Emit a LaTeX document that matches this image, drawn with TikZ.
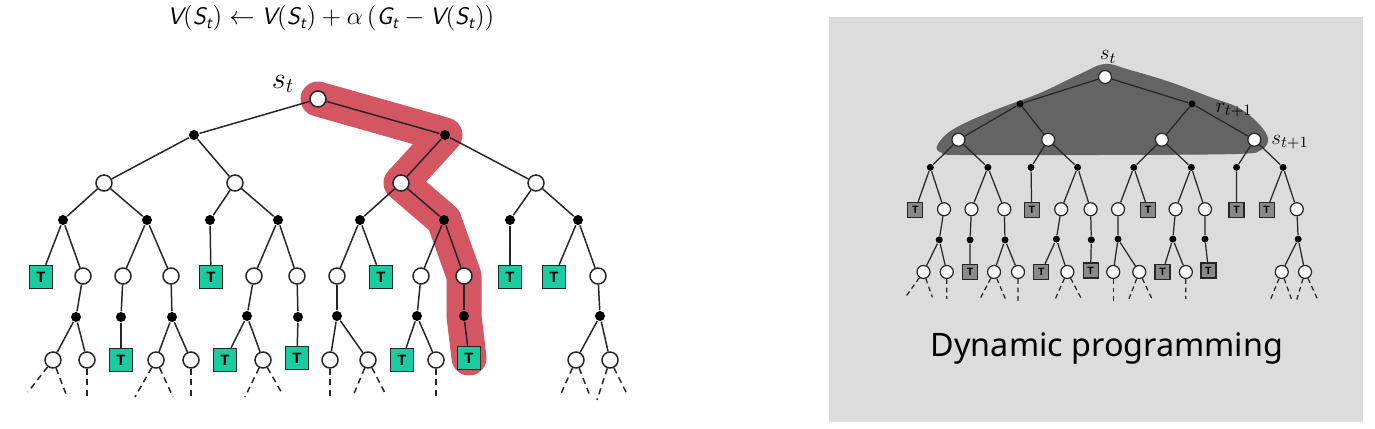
\documentclass[tikz,border=0pt]{standalone}
\usepackage{amsmath}
\usepackage{fontspec}
\usepackage{tikz}
\usetikzlibrary{backgrounds}
\newfontfamily\dpfont{Noto Sans}
\newfontfamily\tfont{Liberation Sans}
\definecolor{xteal}{RGB}{26,204,160}
\definecolor{xred}{RGB}{212,86,98}
\definecolor{xpanel}{RGB}{220,220,220}
\definecolor{xblob}{RGB}{100,100,100}
\definecolor{xtgray}{RGB}{138,138,138}

\newcommand{\sfi}[1]{\textsf{\itshape #1}}

% one backup tree, root at (0,0), node names prefixed by #1
\newcommand{\backuptree}[1]{%
  \foreach \n/\x/\y in {r/0/0, s1/-214/84, s2/-83/84, s3/83/84, s4/218/84,
      u1/-235/177, u2/-195/177, u3/-147/177, u4/-64/177, u5/-21/177,
      u6/19/177, u7/103/177, u8/146/177, u9/280/177,
      v1/-265/261, v2/-231/261, v3/-162/261, v4/-127/261, v5/-55/261,
      v6/12/261, v7/50/261, v8/118/261, v9/258/261, v10/292/261}
    \node[stnode] (#1\n) at (\x,\y) {};
  \foreach \n/\x/\y in {a1/-124/36, a2/127/36,
      b1/-255/121, b2/-171/121, b3/-108/121, b4/-40/121,
      b5/42/121, b6/126/121, b7/192/121, b8/260/121,
      c1/-242/218, c2/-197/218, c3/-146/218, c4/-71/217, c5/-20/218,
      c6/19/217, c7/99/217, c8/146/217, c9/282/217}
    \node[actnode] (#1\n) at (\x,\y) {};
  \foreach \n/\x/\y in {t1/-277/178, t2/-107/178, t3/63/178, t4/192/178,
      t5/236/178, t6/-197/261, t7/-93/261, t8/-21/259, t9/84/261, t10/151/259}
    \node[termnode] (#1\n) at (\x,\y) {T};
  \foreach \n/\x/\y in {d1/-290/293, d2/-252/295, d3/-231/297, d4/-183/298,
      d5/-145/298, d6/-127/301, d7/-73/298, d8/-35/296, d9/12/301,
      d10/35/297, d11/68/296, d12/118/297, d13/242/297, d14/272/297,
      d15/279/301, d16/310/297}
    \coordinate (#1\n) at (\x,\y);
  % branches
  \foreach \p/\c in {r/a1, r/a2, a1/s1, a1/s2, a2/s3, a2/s4,
      s1/b1, s1/b2, s2/b3, s2/b4, s3/b5, s3/b6, s4/b7, s4/b8,
      b1/t1, b1/u1, b2/u2, b2/u3, b3/t2, b4/u4, b4/u5, b5/u6, b5/t3,
      b6/u7, b6/u8, b7/t4, b8/t5, b8/u9,
      u1/c1, u2/c2, u3/c3, u4/c4, u5/c5, u6/c6, u7/c7, u8/c8, u9/c9,
      c1/v1, c1/v2, c2/t6, c3/v3, c3/v4, c4/t7, c4/v5, c5/t8,
      c6/v6, c6/v7, c7/t9, c7/v8, c8/t10, c9/v9, c9/v10}
    \draw[br] (#1\p) -- (#1\c);
  \foreach \p/\c in {v1/d1, v1/d2, v2/d3, v3/d4, v3/d5, v4/d6, v5/d7, v5/d8,
      v6/d9, v7/d10, v7/d11, v8/d12, v9/d13, v9/d14, v10/d15, v10/d16}
    \draw[leaf] (#1\p) -- (#1\c);
}

\begin{document}
\begin{tikzpicture}[x=0.02cm, y=-0.02cm,
  stnode/.style={circle, draw=black!85, fill=white, inner sep=0pt},
  actnode/.style={circle, fill=black, inner sep=0pt},
  termnode/.style={rectangle, draw=black!85, inner sep=0pt, font=\tfont\bfseries},
  br/.style={draw=black!85},
  leaf/.style={draw=black!85, dash pattern=on 3.5pt off 2.5pt},
  lbl/.style={inner sep=0pt}
]
  \useasboundingbox (0,0) rectangle (1375,429);

  % Monte-Carlo backup
  \node[lbl, font=\fontsize{13.6}{15}\selectfont] (mcrule) at (331,18)
    {$\sfi{V}(\sfi{S}_{\sfi{t}}) \leftarrow \sfi{V}(\sfi{S}_{\sfi{t}}) + \alpha\,(\sfi{G}_{\sfi{t}} - \sfi{V}(\sfi{S}_{\sfi{t}}))$};
  \begin{scope}[shift={(318,99)}, line width=0.85pt,
      stnode/.append style={minimum size=0.32cm},
      actnode/.append style={minimum size=0.2cm},
      termnode/.append style={minimum size=0.46cm, fill=xteal, font=\tfont\bfseries\fontsize{8.5}{9}\selectfont}]
    \backuptree{L}
  \end{scope}
  \node[lbl, font=\fontsize{18}{20}\selectfont] (Lst) at (283,84) {$s_t$};
  \begin{scope}[on background layer]
    \draw[xred, line width=0.7cm, line cap=round, line join=round]
      (Lr.center) -- (La2.center) -- (Ls3.center) -- (Lb6.center)
      -- (Lu8.center) -- (Lc8.center) -- (Lt10.center);
  \end{scope}

  % Dynamic programming backup
  \fill[xpanel] (829,17) rectangle (1363,422);
  \fill[xblob] plot[smooth cycle, tension=0.6] coordinates {
    (937,146) (952,130) (990,112) (1040,93) (1080,74) (1105,64)
    (1130,70) (1170,82) (1210,97) (1237,107) (1256,121) (1268,138)
    (1261,150) (1235,154) (1100,155) (960,155) (942,153)};
  \begin{scope}[shift={(1105,77)}, xscale=0.685, yscale=0.747, line width=0.7pt,
      stnode/.append style={minimum size=0.26cm},
      actnode/.append style={minimum size=0.14cm},
      termnode/.append style={minimum size=0.3cm, fill=xtgray, font=\tfont\bfseries\fontsize{6}{7}\selectfont},
      leaf/.append style={dash pattern=on 2.8pt off 2pt}]
    \backuptree{R}
  \end{scope}
  \node[lbl, font=\fontsize{13}{14}\selectfont] (Rst) at (1108,57) {$s_t$};
  \node[lbl, font=\fontsize{13}{14}\selectfont] (Rrt) at (1234,110) {$r_{t+1}$};
  \node[lbl, font=\fontsize{13}{14}\selectfont] (Rst1) at (1290,142) {$s_{t+1}$};
  \node[lbl, font=\dpfont\fontsize{18.4}{22}\selectfont] (dp) at (1107,348) {Dynamic programming};
\end{tikzpicture}
\end{document}
